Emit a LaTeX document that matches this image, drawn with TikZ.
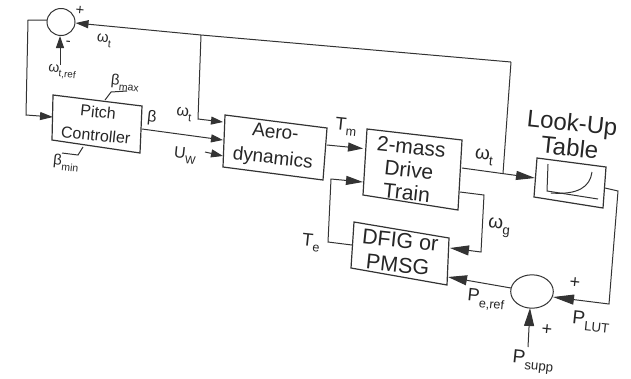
\documentclass[tikz,border=0pt]{standalone}
\usepackage{fontspec}
\setmainfont{Liberation Sans}
\usetikzlibrary{arrows.meta}
\newcommand{\fs}[2]{\fontsize{#1bp}{#2bp}\selectfont}
\newcommand{\dn}[1]{\raisebox{-0.3em}{\scalebox{0.7}{#1}}}
\tikzset{
  wire/.style={line width=1bp, draw=black!80},
  arr/.style 2 args={wire, -{Triangle[length=#1bp,width=#2bp]}},
  blk/.style={line width=1.2bp, draw=black!80},
  lbl/.style={inner sep=0pt, text=black!85, rotate=-6, align=center},
}
\begin{document}
\begin{tikzpicture}[x=1bp,y=-1bp]
\path[use as bounding box] (0,0) rectangle (631,378);

% ---------- coordinates ----------
% top summing circle
\coordinate (s1) at (61,22);
\coordinate (s1e) at (75.5,23);
\coordinate (s1w) at (47,20);
\coordinate (s1s) at (60,36);
% pitch controller box
\coordinate (pA) at (53,95);  \coordinate (pB) at (142,106);
\coordinate (pC) at (140,153); \coordinate (pD) at (52,140);
% aero box
\coordinate (aA) at (225,115); \coordinate (aB) at (327,128);
\coordinate (aC) at (323,180); \coordinate (aD) at (223,167);
% drive train box
\coordinate (dA) at (367,129); \coordinate (dB) at (462,140);
\coordinate (dC) at (458,210); \coordinate (dD) at (363,195);
% dfig box
\coordinate (gA) at (354,222); \coordinate (gB) at (449,238);
\coordinate (gC) at (447,285); \coordinate (gD) at (351,268);
% look-up table box
\coordinate (lA) at (537,158); \coordinate (lB) at (606,167);
\coordinate (lC) at (603,208); \coordinate (lD) at (534,197);
% lower summing ellipse
\coordinate (s2) at (532,291.5);

% ---------- blocks ----------
\draw[blk] (pA)--(pB)--(pC)--(pD)--cycle;
\draw[blk] (aA)--(aB)--(aC)--(aD)--cycle;
\draw[blk] (dA)--(dB)--(dC)--(dD)--cycle;
\draw[blk] (gA)--(gB)--(gC)--(gD)--cycle;
\draw[blk] (lA)--(lB)--(lC)--(lD)--cycle;
\draw[wire] (s1) ellipse [x radius=14, y radius=13.5];
\draw[wire] (s2) ellipse [x radius=21.3, y radius=16.7];

% look-up table curve
\coordinate (ax1) at (548,164); \coordinate (ax0) at (547,191); \coordinate (ax2) at (598,199);
\draw[wire] (ax1) -- (ax0) -- (ax2);
\coordinate (cv0) at (551,193); \coordinate (cv1) at (592,172);
\draw[wire] (cv0) .. controls (578,195) and (590,187) .. (cv1);

% ---------- block texts ----------
\node[lbl, font={\fs{16}{23}}] (pitch) at (97,123.5) {Pitch\\Controller};
\node[lbl, font={\fs{19}{26}}] (aero) at (274,146.5) {Aero-\\dynamics};
\node[lbl, font={\fs{21}{23}}] (drive) at (409,170) {2-mass\\Drive\\Train};
\node[lbl, font={\fs{21.5}{25}}] (dfig) at (399,252.5) {DFIG or\\PMSG};
\node[lbl, font={\fs{24}{25}}] (lut) at (571,135) {Look-Up\\Table};

% ---------- connectors ----------
% top feedback
\coordinate (tR) at (511,62);
\coordinate (tJ) at (201,35);
\draw[arr={13}{8}] (tR) -- (tJ) -- (s1e);
% omega_t into aero
\coordinate (wc) at (198,119); \coordinate (ain1) at (223,122);
\draw[arr={12}{8}] (tJ) -- (wc) -- (ain1);
% circle to pitch
\coordinate (c1) at (28,20); \coordinate (c2) at (26,115); \coordinate (pin) at (53,117);
\draw[arr={13}{8}] (s1w) -- (c1) -- (c2) -- (pin);
% omega_t,ref
\coordinate (wref) at (60,65);
\draw[arr={12}{8}] (wref) -- (s1s);
% beta
\coordinate (pout) at (142,129); \coordinate (ain2) at (223,140);
\draw[arr={12}{8}] (pout) -- (ain2);
% U_W
\coordinate (uw) at (205,152); \coordinate (ain3) at (223,156);
\draw[arr={12}{8}] (uw) -- (ain3);
% beta limits
\coordinate (bx0) at (105,100); \coordinate (bx1) at (111,92); \coordinate (bx2) at (127,91);
\draw[wire] (bx0) -- (bx1) -- (bx2);
\coordinate (bn0) at (83,147); \coordinate (bn1) at (78,155); \coordinate (bn2) at (62,153);
\draw[wire] (bn0) -- (bn1) -- (bn2);
% T_m
\coordinate (aout) at (327,145); \coordinate (din1) at (363,148.5);
\draw[arr={15}{9}] (aout) -- (din1);
% T_e
\coordinate (gl) at (352,245); \coordinate (e1) at (328,242); \coordinate (e2) at (331,179);
\coordinate (din2) at (363,182);
\draw[arr={17}{9}] (gl) -- (e1) -- (e2) -- (din2);
% omega_t out
\coordinate (dout) at (462,168); \coordinate (lin) at (535,178);
\coordinate (rJ) at (503,173.5);
\draw[arr={19}{9}] (dout) -- (lin);
\draw[wire] (tR) -- (rJ);
% omega_g
\coordinate (dg) at (460,192); \coordinate (g1) at (484,195); \coordinate (g2) at (481,252);
\coordinate (gin1) at (450,248);
\draw[arr={19}{10}] (dg) -- (g1) -- (g2) -- (gin1);
% P_e,ref
\coordinate (s2w) at (511,288); \coordinate (gin2) at (448,277);
\draw[arr={19}{10}] (s2w) -- (gin2);
% P_LUT
\coordinate (lout) at (605,188); \coordinate (l1) at (618,191); \coordinate (l2) at (609,304);
\coordinate (s2e) at (553,297);
\draw[arr={21}{10}] (lout) -- (l1) -- (l2) -- (s2e);
% P_supp
\coordinate (ps) at (528,347); \coordinate (s2s) at (530,308);
\draw[arr={18}{10}] (ps) -- (s2s);

% ---------- labels ----------
\node[lbl, font={\fs{15}{15}}] (plus1) at (80,11) {+};
\node[lbl, font={\fs{15}{15}}] (minus1) at (68,43) {-};
\node[lbl, font={\fs{15}{15}}] (wt1) at (104,41) {ω\dn{t}};
\node[lbl, font={\fs{14}{14}}] (wtref) at (62,72) {ω\dn{t,ref}};
\node[lbl, font={\fs{15}{15}}] (bmax) at (125,83) {β\dn{max}};
\node[lbl, font={\fs{15}{15}}] (bmin) at (66,163) {β\dn{min}};
\node[lbl, font={\fs{16}{16}}] (beta) at (152,118) {β};
\node[lbl, font={\fs{16}{16}}] (wt2) at (184,114) {ω\dn{t}};
\node[lbl, font={\fs{16}{16}}] (uwl) at (185,156) {U\dn{W}};
\node[lbl, font={\fs{18}{18}}] (tml) at (346,127) {T\dn{m}};
\node[lbl, font={\fs{19}{19}}] (wt3) at (484,157) {ω\dn{t}};
\node[lbl, font={\fs{18}{18}}] (tel) at (311,243) {T\dn{e}};
\node[lbl, font={\fs{19}{19}}] (wgl) at (499,228) {ω\dn{g}};
\node[lbl, font={\fs{18}{18}}] (perl) at (486,300) {P\dn{e,ref}};
\node[lbl, font={\fs{18}{18}}] (plus2) at (575,283) {+};
\node[lbl, font={\fs{19}{19}}] (plutl) at (591,322) {P\dn{LUT}};
\node[lbl, font={\fs{18}{18}}] (plus3) at (547,330) {+};
\node[lbl, font={\fs{19}{19}}] (psupl) at (533,362) {P\dn{supp}};
\end{tikzpicture}
\end{document}
